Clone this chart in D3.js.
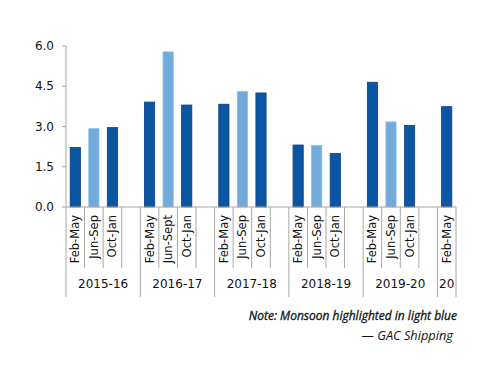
<!DOCTYPE html>
<html>
<head>
<meta charset="utf-8">
<script src="https://cdn.jsdelivr.net/npm/d3@7"></script>
<style>
  body { margin: 0; background: #fff; }
</style>
</head>
<body>
<div class="svg-container"></div>
<script>
// chart data
const groups = ['2015-16', '2016-17', '2017-18', '2018-19', '2019-20', '20'];
const periods = [
  ['Feb-May', 'Jun-Sep', 'Oct-Jan'],
  ['Feb-May', 'Jun-Sept', 'Oct-Jan'],
  ['Feb-May', 'Jun-Sep', 'Oct-Jan'],
  ['Feb-May', 'Jun-Sep', 'Oct-Jan'],
  ['Feb-May', 'Jun-Sep', 'Oct-Jan'],
  ['Feb-May']
];
const values = [
  [2.22, 2.92, 2.96],
  [3.91, 5.78, 3.80],
  [3.83, 4.30, 4.25],
  [2.31, 2.29, 1.99],
  [4.65, 3.17, 3.04],
  [3.74]
];
const yTicks = [0, 1.5, 3.0, 4.5, 6.0];

function renderChart() {
  const width = 500;
  const height = 386;
  const margin = { top: 46, right: 44, bottom: 179, left: 66 };

  const labelFont = 'DejaVu Sans';
  const noteFont = 'Open Sans';
  const darkBlue = '#0a56a1';
  const lightBlue = '#70abdc';

  // flatten to slots, one blank slot after every group but the last
  const slots = [];
  groups.forEach((g, gi) => {
    periods[gi].forEach((p, pi) => {
      slots.push({ key: g + '|' + p, group: g, period: p, value: values[gi][pi], monsoon: p.startsWith('Jun') });
    });
    if (gi < groups.length - 1) slots.push({ key: g + '|blank', group: g, period: null, value: null });
  });

  const svg = d3.select('.svg-container')
    .append('svg')
    .attr('width', width)
    .attr('height', height);

  const x = d3.scaleBand()
    .domain(slots.map((d) => d.key))
    .range([margin.left, width - margin.right])
    .padding(0);

  const y = d3.scaleLinear()
    .domain([0, 6])
    .range([height - margin.bottom, margin.top]);

  const y0 = y(0);
  const barW = x.bandwidth() * 0.55;

  // y axis
  svg.append('line')
    .attr('x1', margin.left).attr('x2', margin.left)
    .attr('y1', y(6)).attr('y2', 297)
    .attr('stroke', '#a8a8a8');

  svg.append('g')
    .selectAll('line')
    .data(yTicks)
    .enter()
    .append('line')
    .attr('x1', margin.left - 4).attr('x2', margin.left)
    .attr('y1', (d) => y(d)).attr('y2', (d) => y(d))
    .attr('stroke', '#a8a8a8');

  svg.append('g')
    .selectAll('text')
    .data(yTicks)
    .enter()
    .append('text')
    .attr('x', margin.left - 12)
    .attr('y', (d) => y(d))
    .attr('dy', '0.35em')
    .attr('text-anchor', 'end')
    .attr('font-family', labelFont)
    .attr('font-size', 12)
    .attr('fill', '#111')
    .text((d) => d3.format('.1f')(d));

  // bars
  svg.append('g')
    .selectAll('rect')
    .data(slots.filter((d) => d.value !== null))
    .enter()
    .append('rect')
    .attr('x', (d) => x(d.key) + (x.bandwidth() - barW) / 2)
    .attr('y', (d) => y(d.value))
    .attr('width', barW)
    .attr('height', (d) => y0 - y(d.value))
    .attr('fill', (d) => d.monsoon ? lightBlue : darkBlue)
    .attr('stroke', (d) => d.monsoon ? '#8cbde6' : '#0a3f91')
    .attr('stroke-width', 0.8);

  // x baseline
  svg.append('line')
    .attr('x1', margin.left).attr('x2', width - margin.right)
    .attr('y1', y0).attr('y2', y0)
    .attr('stroke', '#a8a8a8');

  // slot separators
  slots.forEach((d, i) => {
    const right = x(d.key) + x.bandwidth();
    const isGroupEnd = i === slots.length - 1 || slots[i + 1].group !== d.group;
    svg.append('line')
      .attr('x1', right).attr('x2', right)
      .attr('y1', y0).attr('y2', isGroupEnd ? 297 : 268)
      .attr('stroke', '#a8a8a8');
  });

  // period labels
  svg.append('g')
    .selectAll('text')
    .data(slots.filter((d) => d.period))
    .enter()
    .append('text')
    .attr('transform', (d) => `translate(${x(d.key) + x.bandwidth() / 2},${y0 + 8}) rotate(-90)`)
    .attr('dy', '0.35em')
    .attr('text-anchor', 'end')
    .attr('font-family', labelFont)
    .attr('font-size', 11.5)
    .attr('fill', '#111')
    .text((d) => d.period);

  // group labels
  groups.forEach((g) => {
    const gs = slots.filter((d) => d.group === g);
    const left = x(gs[0].key);
    const right = x(gs[gs.length - 1].key) + x.bandwidth();
    svg.append('text')
      .attr('x', (left + right) / 2)
      .attr('y', 288)
      .attr('text-anchor', 'middle')
      .attr('font-family', labelFont)
      .attr('font-size', 12)
      .attr('fill', '#111')
      .text(g);
  });

  // notes
  svg.append('text')
    .attr('x', 457)
    .attr('y', 320)
    .attr('text-anchor', 'end')
    .attr('font-family', noteFont)
    .attr('font-style', 'italic')
    .attr('font-size', 12)
    .attr('fill', '#111')
    .attr('stroke', '#111')
    .attr('stroke-width', 0.3)
    .text('Note: Monsoon highlighted in light blue');

  svg.append('text')
    .attr('x', 453)
    .attr('y', 340)
    .attr('text-anchor', 'end')
    .attr('font-family', noteFont)
    .attr('font-style', 'italic')
    .attr('font-size', 12.8)
    .attr('fill', '#111')
    .text('\u2014 GAC Shipping');
}

renderChart();
</script>
</body>
</html>
